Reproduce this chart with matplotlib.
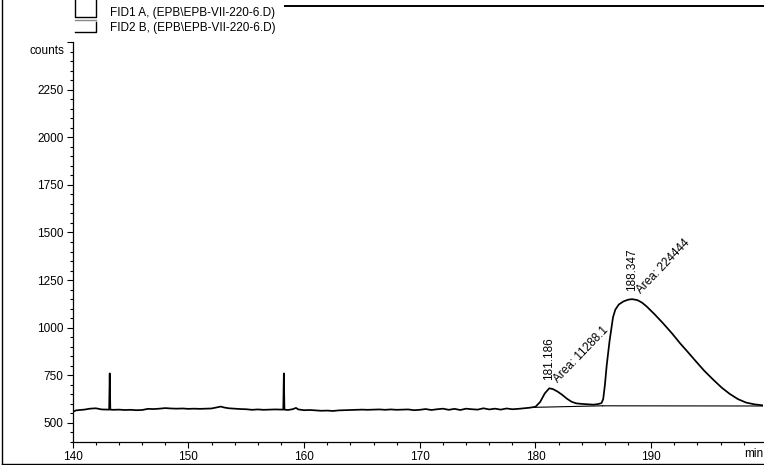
import matplotlib
matplotlib.use("Agg")
import matplotlib.pyplot as plt
from matplotlib.lines import Line2D
from matplotlib.ticker import MultipleLocator, FixedLocator

# Retention time (min) and detector signal (counts)
time_min = [
    140.0, 140.3, 140.6, 141.0, 141.5, 142.0, 142.5, 143.0, 143.15, 143.2, 143.25,
    143.5, 144.0, 144.5, 145.0, 145.5, 146.0, 146.5, 147.0, 147.5, 148.0, 148.5,
    149.0, 149.5, 150.0, 150.5, 151.0, 151.5, 152.0, 152.5, 152.8, 153.1, 153.5,
    154.0, 154.5, 155.0, 155.5, 156.0, 156.5, 157.0, 157.5, 158.0, 158.2, 158.25,
    158.3, 158.6, 159.0, 159.3, 159.5, 160.0, 160.5, 161.0, 161.5, 162.0, 162.5,
    163.0, 163.5, 164.0, 164.5, 165.0, 165.5, 166.0, 166.5, 167.0, 167.5, 168.0,
    168.5, 169.0, 169.5, 170.0, 170.5, 171.0, 171.5, 172.0, 172.5, 173.0, 173.5,
    174.0, 174.5, 175.0, 175.5, 176.0, 176.5, 177.0, 177.5, 178.0, 178.5, 179.0,
    179.5, 180.0, 180.4, 180.8, 181.19, 181.5, 181.9, 182.3, 182.7, 183.1, 183.5,
    184.0, 184.5, 185.0, 185.4, 185.7, 185.85, 186.0, 186.15, 186.4, 186.7, 186.9,
    187.2, 187.6, 188.0, 188.347, 188.8, 189.2, 189.6, 190.3, 191.0, 191.8, 192.5,
    193.2, 193.9, 194.6, 195.4, 196.1, 196.8, 197.5, 198.2, 198.9, 199.4, 199.7,
]
signal_counts = [
    559, 566, 568, 570, 575, 577, 571, 570, 570, 760, 570,
    569, 570, 568, 569, 567, 568, 574, 573, 575, 578, 576,
    575, 576, 574, 575, 574, 575, 576, 582, 586, 581, 577,
    575, 573, 572, 569, 571, 569, 570, 571, 570, 570, 760,
    570, 568, 572, 579, 571, 567, 568, 566, 564, 565, 563,
    566, 567, 568, 569, 570, 569, 570, 571, 569, 571, 569,
    570, 571, 567, 569, 573, 568, 572, 575, 569, 574, 568,
    575, 572, 570, 577, 571, 575, 570, 576, 572, 574, 577,
    580, 585, 610, 655, 682, 678, 665, 648, 628, 612, 603,
    600, 598, 596, 599, 604, 625, 700, 800, 930, 1055, 1095,
    1122, 1138, 1147, 1150, 1145, 1132, 1112, 1070, 1025, 970, 918,
    870, 821, 773, 725, 685, 652, 625, 607, 598, 594, 592,
]

# Integration baselines drawn under the two peaks
baseline1_time = [179.9, 185.8]
baseline1_counts = [582, 590]
baseline2_time = [185.8, 199.7]
baseline2_counts = [590, 589]

# Integrated peaks: apex time, apex height, area
peak_times = [181.186, 188.347]
peak_heights = [682, 1150]
peak_areas = ["11288.1", "224444"]

legend_labels = ["FID1 A, (EPB\\EPB-VII-220-6.D)", "FID2 B, (EPB\\EPB-VII-220-6.D)"]

x_major = [140, 150, 160, 170, 180, 190]
y_major = [500, 750, 1000, 1250, 1500, 1750, 2000, 2250]

plt.rcParams["font.family"] = ["Liberation Sans", "DejaVu Sans"]
FS = 8.5

W, H = 764, 465
fig = plt.figure(figsize=(W / 100, H / 100), dpi=100)
fig.patch.set_facecolor("white")

x0, x1 = 72.7, 763.0
y_top, y_bot = 42.0, 442.0
ax = fig.add_axes([x0 / W, 1 - y_bot / H, (x1 - x0) / W, (y_bot - y_top) / H])
ax.set_xlim(140, 140 + (x1 - x0) / 11.57)
ax.set_ylim(400, 2500)

ax.plot(time_min, signal_counts, color="black", lw=1.25, solid_joinstyle="round")
ax.plot(baseline1_time, baseline1_counts, color="black", lw=0.8)
ax.plot(baseline2_time, baseline2_counts, color="black", lw=0.8)

for t, h, a in zip(peak_times, peak_heights, peak_areas):
    ax.annotate(f"{t:.3f}", xy=(t, h), xytext=(0, 6), textcoords="offset points",
                rotation=90, ha="center", va="bottom", fontsize=FS)
    ax.annotate(f"Area: {a}", xy=(t, h), xytext=(8, 2), textcoords="offset points",
                rotation=46, rotation_mode="anchor", ha="left", va="bottom", fontsize=FS)

for side in ("top", "right"):
    ax.spines[side].set_visible(False)
for side in ("left", "bottom"):
    ax.spines[side].set_linewidth(0.9)

ax.xaxis.set_major_locator(FixedLocator(x_major))
ax.xaxis.set_minor_locator(MultipleLocator(2))
ax.yaxis.set_major_locator(FixedLocator(y_major + [2500]))
ax.yaxis.set_minor_locator(MultipleLocator(50))
ax.set_xticklabels([str(v) for v in x_major])
ax.set_yticklabels([str(v) for v in y_major] + [""])
ax.tick_params(axis="both", which="major", length=4.5, width=0.8, labelsize=FS, pad=2)
ax.tick_params(axis="both", which="minor", length=2.5, width=0.8)

ax.text(1.0, -0.016, "min", transform=ax.transAxes,
        ha="right", va="top", fontsize=FS)
ax.text(-0.012, 2455, "counts", transform=ax.get_yaxis_transform(),
        ha="right", va="center", fontsize=FS)

# Legend swatches and labels in the top-left corner (pixel coordinates)
def px_line(xs, ys, lw=1.0, color="black"):
    fig.add_artist(Line2D([x / W for x in xs], [1 - y / H for y in ys],
                          color=color, lw=lw, transform=fig.transFigure))

px_line([74.5, 74.5, 95.5, 95.5], [0, 17, 17, 0])
px_line([75, 95.5], [20, 20], color="#888888")
px_line([74.5, 95.5, 95.5], [32, 32, 22])
fig.text(110 / W, 1 - 13 / H, legend_labels[0], ha="left", va="center", fontsize=FS)
fig.text(110 / W, 1 - 28 / H, legend_labels[1], ha="left", va="center", fontsize=FS)

# Report frame
px_line([1.5, 1.5], [0, 463.5])
px_line([1.5, 764], [463.5, 463.5])
px_line([285, 764], [6.5, 6.5], lw=1.4)

fig.savefig("out.png", dpi=100)
